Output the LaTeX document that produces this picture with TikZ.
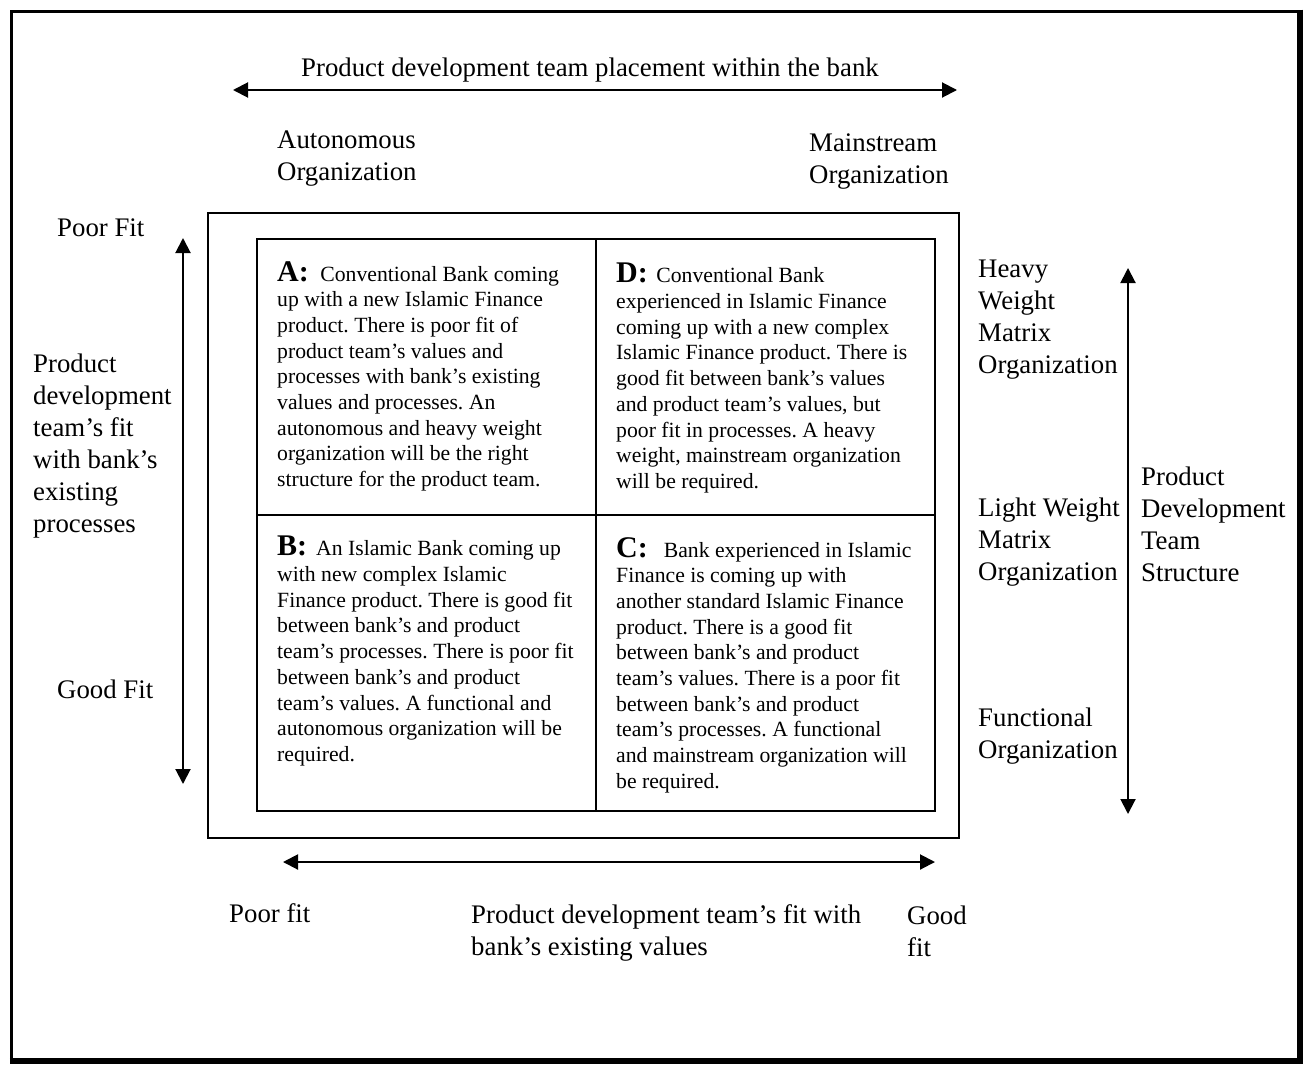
\documentclass[tikz,border=0pt]{standalone}
\usepackage{fontspec}
\setmainfont{Liberation Serif}
\usetikzlibrary{arrows.meta}

% bold quadrant letter followed by its gap
\newcommand\quadletter[2][9pt]{{\fontsize{30}{25.7}\selectfont\bfseries #2:}\hspace{#1}}

\begin{document}
\frenchspacing
\begin{tikzpicture}[x=1pt,y=-1pt,
  lbl/.style={anchor=north west, inner sep=0pt, align=left,
              font=\fontsize{26.8}{32}\selectfont},
  celltext/.style={anchor=north west, inner sep=0pt, align=left,
              font=\fontsize{21.7}{25.7}\selectfont},
  axis/.style={line width=2pt,
              {Triangle[length=15pt,width=15pt]}-{Triangle[length=15pt,width=15pt]}},
  boxline/.style={line width=2pt},
  gridline/.style={line width=1.6pt}]

% page and outer frame
\fill[white] (0,0) rectangle (1305,1065);
\useasboundingbox (0,0) rectangle (1305,1065);
\draw[line width=3.5pt] (11.5,11.5) rectangle (1300,1061);
\draw[line width=6.5pt] (1300,9.75) -- (1300,1064.25);
\draw[line width=6.5pt] (9.75,1061) -- (1303.25,1061);

% matrix: outer box, inner grid and its dividers
\draw[boxline] (208,213) rectangle (959,838);
\draw[boxline] (257,239) rectangle (935,811);
\draw[gridline] (596,239) -- (596,811);
\draw[gridline] (257,515) -- (935,515);

% top axis
\coordinate (topL) at (233,90);
\coordinate (topR) at (957,90);
\draw[axis] (topL) -- (topR);
\node[lbl] (toplbl) at (301,58) {Product development team placement within the bank};
\node[lbl] (auto) at (277,131) {Autonomous\\Organization};
\node[lbl] (main) at (809,134) {Mainstream\\Organization};

% left axis
\coordinate (leftT) at (183,238);
\coordinate (leftB) at (183,784);
\draw[axis] (leftT) -- (leftB);
\node[lbl] (lpoor) at (57,219) {Poor Fit};
\node[lbl] (lproc) at (33,354) {Product\\development\\team’s fit\\with bank’s\\existing\\processes};
\node[lbl] (lgood) at (57,680) {Good Fit};

% bottom axis
\coordinate (botL) at (283,862);
\coordinate (botR) at (935,862);
\draw[axis] (botL) -- (botR);
\node[lbl] (bpoor) at (229,903) {Poor fit};
\node[lbl] (bvals) at (471,904) {Product development team’s fit with\\bank’s existing values};
\node[lbl] (bgood) at (907,906) {Good\\fit};

% right axis
\coordinate (rightT) at (1128,268);
\coordinate (rightB) at (1128,814);
\draw[axis] (rightT) -- (rightB);
\node[lbl] (heavy) at (978,260) {Heavy\\Weight\\Matrix\\Organization};
\node[lbl] (light) at (978,498) {Light Weight\\Matrix\\Organization};
\node[lbl] (func) at (978,708) {Functional\\Organization};
\node[lbl] (pdts) at (1141,467) {Product\\Development\\Team\\Structure};

% quadrant texts
\node[celltext] (qa) at (277,261) {\quadletter[11.5pt]{A}Conventional Bank coming\\
up with a new Islamic Finance\\
product. There is poor fit of\\
product team’s values and\\
processes with bank’s existing\\
values and processes. An\\
autonomous and heavy weight\\
organization will be the right\\
structure for the product team.};

\node[celltext] (qd) at (616,263) {\quadletter[8.5pt]{D}Conventional Bank\\
experienced in Islamic Finance\\
coming up with a new complex\\
Islamic Finance product. There is\\
good fit between bank’s values\\
and product team’s values, but\\
poor fit in processes. A heavy\\
weight, mainstream organization\\
will be required.};

\node[celltext] (qb) at (277,536) {\quadletter[9pt]{B}An Islamic Bank coming up\\
with new complex Islamic\\
Finance product. There is good fit\\
between bank’s and product\\
team’s processes. There is poor fit\\
between bank’s and product\\
team’s values. A functional and\\
autonomous organization will be\\
required.};

\node[celltext] (qc) at (616,537) {\quadletter[16pt]{C}Bank experienced in Islamic\\
Finance is coming up with\\
another standard Islamic Finance\\
product. There is a good fit\\
between bank’s and product\\
team’s values. There is a poor fit\\
between bank’s and product\\
team’s processes. A functional\\
and mainstream organization will\\
be required.};

\end{tikzpicture}
\end{document}
